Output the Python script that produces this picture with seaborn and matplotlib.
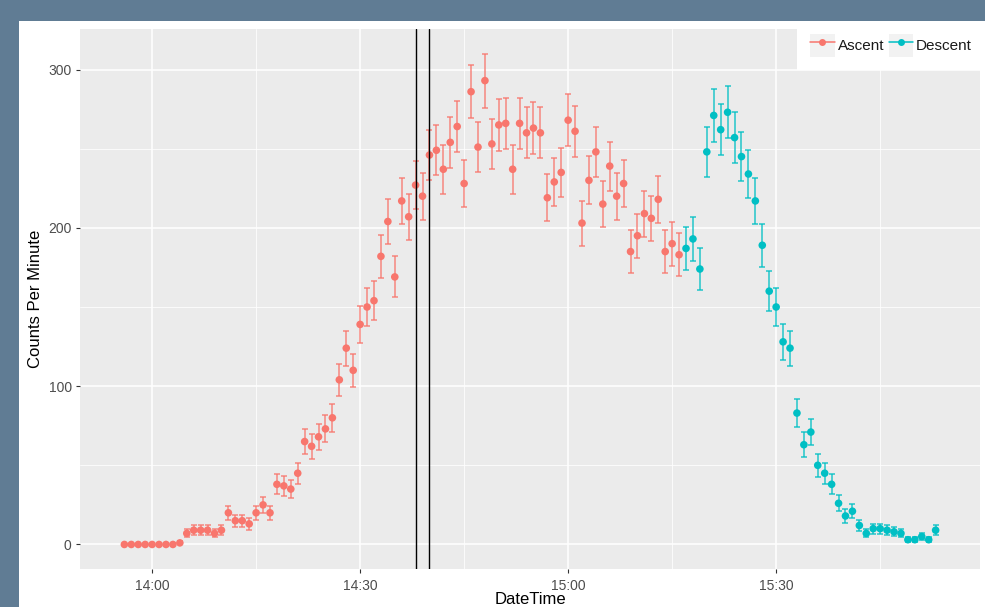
import numpy as np
import pandas as pd
import matplotlib
matplotlib.use("Agg")
import matplotlib.pyplot as plt
import matplotlib.dates as mdates
from matplotlib.patches import Rectangle
from matplotlib.lines import Line2D
from matplotlib.ticker import MultipleLocator
import seaborn as sns

# Counts per minute, ascent phase (one value per minute from 13:56)
ascent_start = "2016-01-01 13:56"
ascent_counts = [0, 0, 0, 0, 0, 0, 0, 0, 1, 7,
                 9, 9, 9, 7, 9, 20, 15, 15, 13, 20,
                 25, 20, 38, 37, 35, 45, 65, 62, 68, 73,
                 80, 104, 124, 110, 139, 150, 154, 182, 204, 169,
                 217, 207, 227, 220, 246, 249, 237, 254, 264, 228,
                 286, 251, 293, 253, 265, 266, 237, 266, 260, 263,
                 260, 219, 229, 235, 268, 261, 203, 230, 248, 215,
                 239, 220, 228, 185, 195, 209, 206, 218, 185, 190,
                 183]
ascent_err = [0, 0, 0, 0, 0, 0, 0, 0, 1.0, 2.6,
              3.0, 3.0, 3.0, 2.6, 3.0, 4.5, 3.9, 3.9, 3.6, 4.5,
              5.0, 4.5, 6.2, 6.1, 5.9, 6.7, 8.1, 7.9, 8.2, 8.5,
              8.9, 10.2, 11.1, 10.5, 11.8, 12.2, 12.4, 13.5, 14.3, 13.0,
              14.7, 14.4, 15.1, 14.8, 15.7, 15.8, 15.4, 15.9, 16.2, 15.1,
              16.9, 15.8, 17.1, 15.9, 16.3, 16.3, 15.4, 16.3, 16.1, 16.2,
              16.1, 14.8, 15.1, 15.3, 16.4, 16.2, 14.2, 15.2, 15.7, 14.7,
              15.5, 14.8, 15.1, 13.6, 14.0, 14.5, 14.4, 14.8, 13.6, 13.8,
              13.5]

# Descent phase (one value per minute from 15:17)
descent_start = "2016-01-01 15:17"
descent_counts = [187, 193, 174, 248, 271, 262, 273, 257, 245, 234,
                  217, 189, 160, 150, 128, 124, 83, 63, 71, 50,
                  45, 38, 26, 18, 21, 12, 7, 10, 10, 9,
                  8, 7, 3, 3, 5, 3, 9]
descent_err = [13.7, 13.9, 13.2, 15.7, 16.5, 16.2, 16.5, 16.0, 15.7, 15.3,
               14.7, 13.7, 12.6, 12.2, 11.3, 11.1, 9.1, 7.9, 8.4, 7.1,
               6.7, 6.2, 5.1, 4.2, 4.6, 3.5, 2.6, 3.2, 3.2, 3.0,
               2.8, 2.6, 1.7, 1.7, 2.2, 1.7, 3.0]

marker_times = ["2016-01-01 14:38", "2016-01-01 14:40"]
phases = ["Ascent", "Descent"]
colors = {"Ascent": "#F8766D", "Descent": "#00BFC4"}

asc = pd.DataFrame({
    "DateTime": pd.date_range(ascent_start, periods=len(ascent_counts), freq="min"),
    "Counts": ascent_counts, "Err": ascent_err, "Phase": "Ascent"})
desc = pd.DataFrame({
    "DateTime": pd.date_range(descent_start, periods=len(descent_counts), freq="min"),
    "Counts": descent_counts, "Err": descent_err, "Phase": "Descent"})
df = pd.concat([asc, desc], ignore_index=True)

sns.set_theme(style="darkgrid", rc={"axes.facecolor": "#EBEBEB", "grid.color": "white"})
plt.rcParams["font.family"] = ["Liberation Sans", "DejaVu Sans"]

W, H = 985, 607
fig = plt.figure(figsize=(W / 100, H / 100), dpi=100, facecolor="#607C94")
fig.add_artist(Rectangle((19 / W, 0), 1 - 19 / W, 1 - 21 / H, transform=fig.transFigure,
                         facecolor="white", edgecolor="none", zorder=-10))

ax = fig.add_axes([80 / W, 1 - 569 / H, 900 / W, 540 / H])

# error bars, then points
for ph in phases:
    sub = df[df["Phase"] == ph]
    ax.errorbar(sub["DateTime"], sub["Counts"], yerr=sub["Err"], fmt="none",
                ecolor=colors[ph], elinewidth=1.1, capsize=2.5, capthick=1.1,
                alpha=0.85, zorder=2)
sns.scatterplot(data=df, x="DateTime", y="Counts", hue="Phase", palette=colors,
                s=30, linewidth=0, legend=False, ax=ax, zorder=3)

for t in marker_times:
    ax.axvline(pd.Timestamp(t), color="black", lw=1.0, zorder=4)

t0 = pd.Timestamp(ascent_start)
ax.set_xlim(t0 - pd.Timedelta(minutes=6.4), t0 + pd.Timedelta(minutes=123.4))
ax.set_ylim(-15.5, 325.6)

ax.xaxis.set_major_locator(mdates.MinuteLocator(byminute=[0, 30]))
ax.xaxis.set_minor_locator(mdates.MinuteLocator(byminute=[15, 45]))
ax.xaxis.set_major_formatter(mdates.DateFormatter("%H:%M"))
ax.yaxis.set_major_locator(MultipleLocator(100))
ax.yaxis.set_minor_locator(MultipleLocator(50))
ax.grid(which="major", color="white", lw=1.1)
ax.grid(which="minor", color="white", lw=0.55)
ax.set_axisbelow(True)
for s in ax.spines.values():
    s.set_visible(False)

ax.tick_params(which="major", length=3, width=0.8, color="#333333",
               labelcolor="#4D4D4D", labelsize=10, bottom=True, left=True)
ax.tick_params(axis="x", pad=4)
ax.tick_params(axis="y", pad=3)
ax.tick_params(which="minor", length=0)

ax.set_xlabel("DateTime", fontsize=12, color="black")
ax.set_ylabel("Counts Per Minute", fontsize=12, color="black")
ax.xaxis.set_label_coords(0.5, -0.042)
ax.yaxis.set_label_coords(-0.041, 0.5)

handles = [(Rectangle((0, 0), 1, 1, facecolor="#F2F2F2", edgecolor="none"),
            Line2D([], [], color=colors[ph], lw=1.1, marker="o", ms=5, mew=0))
           for ph in phases]
leg = fig.legend(handles, phases, ncol=2, loc="upper right",
                 bbox_to_anchor=(1, 1 - 21 / H), borderaxespad=0,
                 frameon=True, facecolor="white", edgecolor="none", framealpha=1,
                 fancybox=False, fontsize=11, handlelength=1.6, handleheight=1.9,
                 handletextpad=0.2, columnspacing=0.3, borderpad=0.85)
for txt in leg.get_texts():
    txt.set_color("#1A1A1A")

fig.savefig("out.png", dpi=100, facecolor=fig.get_facecolor())
